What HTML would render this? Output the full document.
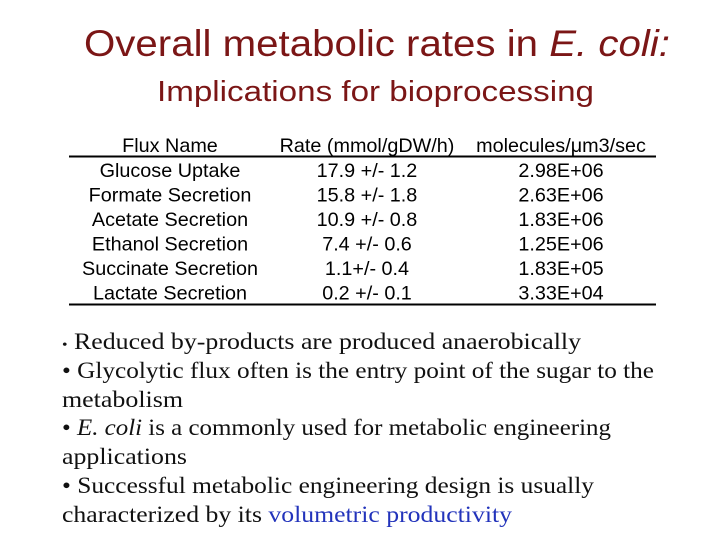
<!DOCTYPE html>
<html><head><meta charset="utf-8"><style>
html,body{margin:0;padding:0;background:#fff;}
svg{display:block}
</style></head><body>
<svg width="720" height="540" viewBox="0 0 720 540" xmlns="http://www.w3.org/2000/svg">
<text x="84" y="56" font-family="Liberation Sans, sans-serif" font-size="37" fill="#7b1616" textLength="586" lengthAdjust="spacingAndGlyphs">Overall metabolic rates in <tspan font-style="italic">E. coli:</tspan></text>
<text x="157" y="101" font-family="Liberation Sans, sans-serif" font-size="29" fill="#7b1616" textLength="437" lengthAdjust="spacingAndGlyphs">Implications for bioprocessing</text>
<g font-family="Liberation Sans, sans-serif" font-size="19.8" fill="#000" text-anchor="middle">
<text x="170" y="152">Flux Name</text>
<text x="367" y="152">Rate (mmol/gDW/h)</text>
<text x="561" y="152">molecules/μm3/sec</text>
<line x1="69" y1="156.5" x2="656" y2="156.5" stroke="#000" stroke-width="2"/>
<g id="rows"></g>
<line x1="69" y1="304.5" x2="656" y2="304.5" stroke="#000" stroke-width="2"/>
</g>
<g font-family="Liberation Serif, serif" font-size="23" fill="#111" lengthAdjust="spacingAndGlyphs">
<text x="62" y="349" textLength="519" lengthAdjust="spacingAndGlyphs"><tspan font-size="14">•</tspan> Reduced by-products are produced anaerobically</text>
<text x="62" y="378" textLength="592" lengthAdjust="spacingAndGlyphs">•  Glycolytic flux often is the entry point of the sugar to the</text>
<text x="62" y="407" textLength="121" lengthAdjust="spacingAndGlyphs">metabolism</text>
<text x="62" y="435" textLength="549" lengthAdjust="spacingAndGlyphs">• <tspan font-style="italic">E. coli</tspan> is a commonly used for metabolic engineering</text>
<text x="62" y="464" textLength="125" lengthAdjust="spacingAndGlyphs">applications</text>
<text x="62" y="493" textLength="532" lengthAdjust="spacingAndGlyphs">•  Successful metabolic engineering design is usually</text>
<text x="62" y="522" textLength="450" lengthAdjust="spacingAndGlyphs">characterized by its <tspan fill="#2233bb">volumetric productivity</tspan></text>
</g>
</svg>
<script>
const fluxNames=["Glucose Uptake","Formate Secretion","Acetate Secretion","Ethanol Secretion","Succinate Secretion","Lactate Secretion"];
const rates=["17.9 +/- 1.2","15.8 +/- 1.8","10.9 +/- 0.8","7.4 +/- 0.6","1.1+/- 0.4","0.2 +/- 0.1"];
const molecules=["2.98E+06","2.63E+06","1.83E+06","1.25E+06","1.83E+05","3.33E+04"];
const g=document.getElementById('rows');
const NS="http://www.w3.org/2000/svg";
const cols=[170,367,561];
fluxNames.forEach((n,i)=>{
  const y=177+i*24.5;
  [n,rates[i],molecules[i]].forEach((v,j)=>{
    const t=document.createElementNS(NS,'text');
    t.setAttribute('x',cols[j]);t.setAttribute('y',y);
    t.textContent=v;
    
    
    g.appendChild(t);
  });
});
</script>
</body></html>
